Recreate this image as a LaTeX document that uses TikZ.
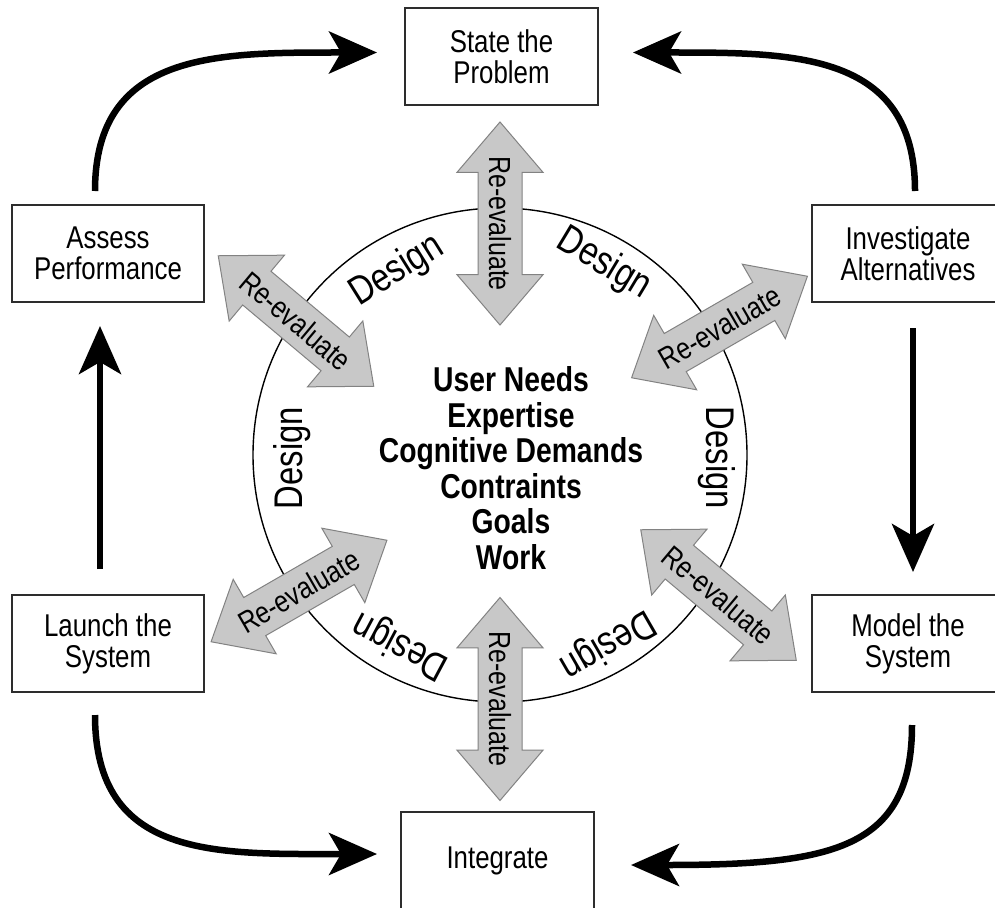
\documentclass[tikz,border=0pt]{standalone}
\usepackage{fontspec}
\setmainfont{Liberation Sans}[FakeStretch=0.82]
\usetikzlibrary{arrows.meta,shapes.arrows}
\definecolor{refill}{RGB}{200,200,200}
\definecolor{reedge}{RGB}{130,130,130}
\definecolor{boxedge}{RGB}{45,45,45}
\begin{document}
\begin{tikzpicture}[x=1pt,y=-1pt,
  box/.style={draw=boxedge, line width=2pt, minimum width=192pt, minimum height=97pt,
    inner sep=0pt, align=center, font=\fontsize{31.5}{31}\selectfont},
  bigarrow/.style={line width=6.5pt, -{Stealth[length=48pt,width=42pt,inset=12pt]}},
  rearrow/.style={double arrow, draw=reedge, fill=refill, line width=1pt,
    minimum height=203pt, inner sep=0pt, inner ysep=21.5pt,
    double arrow head extend=21pt, double arrow tip angle=81},
  relabel/.style={font=\fontsize{30.5}{30.5}\selectfont, inner sep=0pt},
  designlabel/.style={font=\fontsize{40}{40}\selectfont, inner sep=0pt},
  hubtext/.style={font=\bfseries\fontsize{34.5}{35.5}\selectfont, align=center, inner sep=0pt}]
\useasboundingbox (0,0) rectangle (995,907);
\fill[white] (0,0) rectangle (995,907);

% boxes
\node[box] (assess) at (108,253.5) {Assess\\Performance};
\node[box, minimum width=193pt] (state) at (501.5,56.5) {State the\\Problem};
\node[box] (invest) at (908,253.5) {Investigate\\Alternatives};
\node[box] (launch) at (108,643.5) {Launch the\\System};
\node[box] (model) at (908,643.5) {Model the\\System};
\node[box, minimum width=193pt] (integ) at (497.5,860.5) {Integrate};

% outer cycle arrows
\draw[bigarrow] ([xshift=-13pt,yshift=13pt]assess.north)
  .. controls +(0,-140) and +(-160,0) .. ([xshift=-27pt,yshift=4pt]state.west);
\draw[bigarrow] ([xshift=7pt,yshift=13pt]invest.north)
  .. controls +(0,-140) and +(160,0) .. ([xshift=34pt,yshift=4pt]state.east);
\draw[bigarrow] ([xshift=-13pt,yshift=-22pt]launch.south)
  .. controls +(0,145) and +(-160,0) .. ([xshift=-23pt,yshift=6.5pt]integ.west);
\draw[bigarrow] ([xshift=4pt,yshift=-32pt]model.south)
  .. controls +(0,125) and +(200,0) .. ([xshift=36pt,yshift=-4.5pt]integ.east);
\draw[bigarrow] ([xshift=-8pt,yshift=25pt]launch.north) -- ([xshift=-8pt,yshift=-23pt]assess.south);
\draw[bigarrow] ([xshift=5pt,yshift=-25pt]invest.south) -- ([xshift=5pt,yshift=22pt]model.north);

% hub circle
\node[circle, draw, line width=1.4pt, minimum size=494pt, inner sep=0pt] (hub) at (500,455) {};
\node[hubtext] (needs) at (511,468) {User Needs\\Expertise\\Cognitive Demands\\Contraints\\Goals\\Work};

% design labels
\node[designlabel, rotate=32] (d1) at (397,271) {Design};
\node[designlabel, rotate=-31] (d2) at (604,264) {Design};
\node[designlabel, rotate=90] (d3) at (292,458) {Design};
\node[designlabel, rotate=-90] (d4) at (717,458) {Design};
\node[designlabel, rotate=152] (d5) at (401,645) {Design};
\node[designlabel, rotate=-150] (d6) at (607,644) {Design};

% re-evaluate arrows
\node[rearrow, rotate=-90] (r1) at (500,223.5) {};
\node[relabel, rotate=-90] at (r1) {Re-evaluate};
\node[rearrow, rotate=-90] (r2) at (500,699) {};
\node[relabel, rotate=-90] at (r2) {Re-evaluate};
\node[rearrow, rotate=-40] (r3) at (296,321) {};
\node[relabel, rotate=-40] at (r3) {Re-evaluate};
\node[rearrow, rotate=30] (r4) at (719.5,327) {};
\node[relabel, rotate=30] at (r4) {Re-evaluate};
\node[rearrow, rotate=30] (r5) at (299,591) {};
\node[relabel, rotate=30] at (r5) {Re-evaluate};
\node[rearrow, rotate=-40] (r6) at (718.5,595) {};
\node[relabel, rotate=-40] at (r6) {Re-evaluate};
\end{tikzpicture}
\end{document}
